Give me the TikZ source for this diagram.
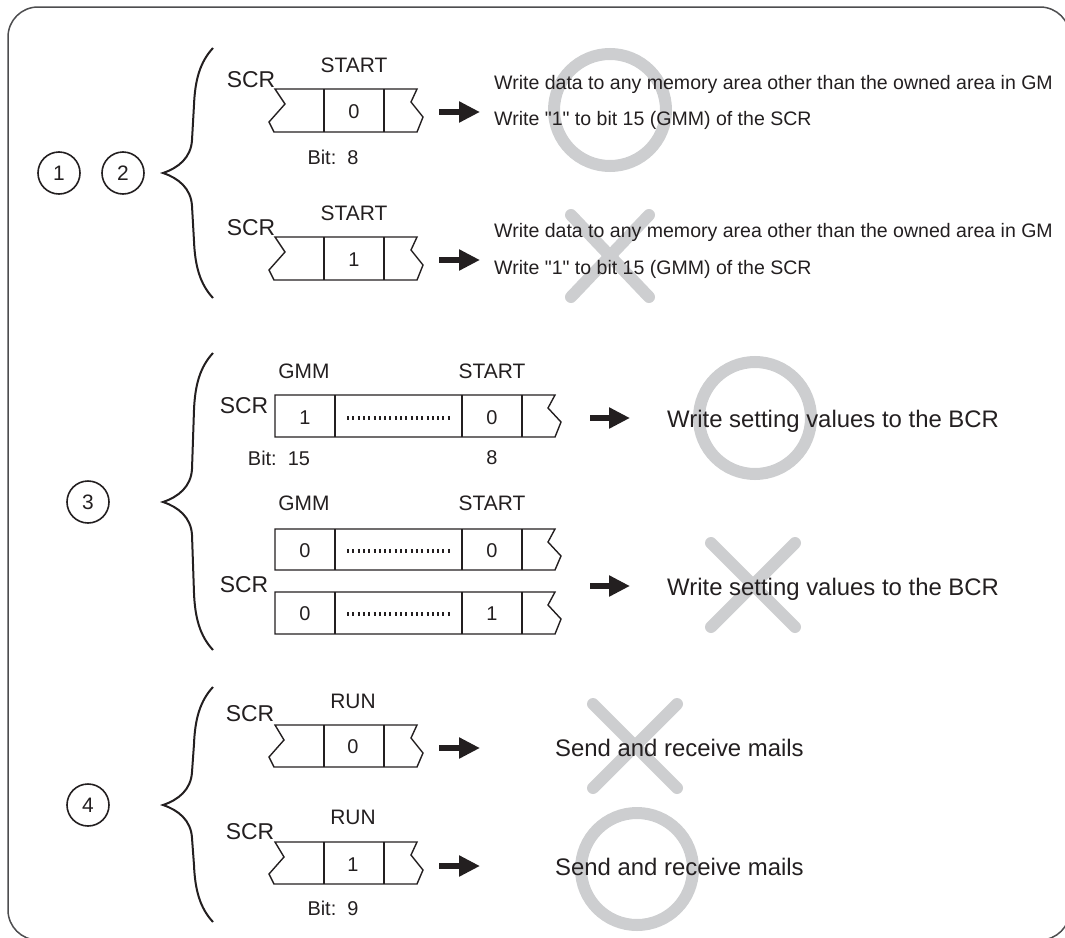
\documentclass[tikz,border=0pt]{standalone}
\usepackage{fontspec}
\setmainfont{Liberation Sans}
\newfontfamily\plainquote{Liberation Sans}
\usetikzlibrary{arrows.meta}
\definecolor{inkdark}{RGB}{35,31,32}
\definecolor{markgray}{RGB}{205,206,208}
\definecolor{framegray}{RGB}{77,77,79}

\begin{document}
\begin{tikzpicture}[x=1bp, y=-1bp, inkdark,
  reg/.style={line width=1.4bp, line join=miter},
  fld/.style={font=\fontsize{21}{24}\selectfont},
  val/.style={font=\fontsize{20}{24}\selectfont},
  scr/.style={font=\fontsize{23}{26}\selectfont},
  bitno/.style={font=\fontsize{20}{24}\selectfont},
  smalltxt/.style={font=\fontsize{19.6}{23}\selectfont, anchor=base west, inner sep=0},
  bigtxt/.style={font=\fontsize{24}{28}\selectfont, anchor=base west, inner sep=0},
  casenum/.style={draw, circle, line width=1.6bp, minimum size=42bp, inner sep=0, font=\fontsize{21}{24}\selectfont},
  curly/.style={line width=2bp},
  okmark/.style={draw=markgray, line width=12bp},
  ngmark/.style={draw=markgray, line width=12bp, line cap=round},
  goarrow/.style={line width=6bp, -{Triangle[length=21bp, width=20bp]}},
  dots/.style={line width=4.5bp, dash pattern=on 2bp off 3.3bp},
]
% frame
\begin{scope}
\clip (0,0) rectangle (1065,938);
\draw[framegray, line width=1.5bp, rounded corners=30bp] (8,7) rectangle (1070,940);
\end{scope}
\useasboundingbox (0,0) rectangle (1065,938);

% OK / NG marks (behind the texts)
\draw[okmark] (610,110) circle (56);
\draw[ngmark] (571,215) -- (649,297) (571,297) -- (649,215);
\draw[okmark] (755,418) circle (56);
\draw[ngmark] (711,543) -- (795,627) (711,627) -- (795,543);
\draw[ngmark] (593,704) -- (677,788) (593,788) -- (677,704);
\draw[okmark] (637,869) circle (56);

% Case 1 and 2
\node[casenum] (c1) at (59,173) {1};
\node[casenum] (c2) at (123,173) {2};
\draw[curly] (213,48) .. controls (200,62) and (195,80) .. (194,105) -- (192,140)
  .. controls (191,158) and (178,168) .. (163,173)
  .. controls (178,178) and (191,188) .. (192,206) -- (194,241)
  .. controls (195,266) and (200,284) .. (213,298);

% START = 0
\begin{scope}[shift={(275,89)}]
\draw[reg] (0,0) -- (142,0) -- (136,13) -- (148,28) -- (142,43) -- (-1,43) -- (-6,33) -- (10,15) -- cycle;
\draw[reg] (49,0) -- (49,43) (109,0) -- (109,43);
\node[val] (s1av) at (79,23) {0};
\node[fld] (s1af) at (79,-24) {START};
\node[scr] (s1as) at (-24,-9) {SCR};
\node[bitno] (s1ab) at (58,68) {Bit:\ \ 8};
\coordinate (s1aout) at (164,23);
\coordinate (s1ain) at (205,23);
\end{scope}
\draw[goarrow] (s1aout) -- (s1ain);
\node[smalltxt] (s1at1) at (494,89) {Write data to any memory area other than the owned area in GM};
\node[smalltxt] (s1at2) at (494,125) {Write {\plainquote"}1{\plainquote"} to bit 15 (GMM) of the SCR};

% START = 1
\begin{scope}[shift={(275,237)}]
\draw[reg] (0,0) -- (142,0) -- (136,13) -- (148,28) -- (142,43) -- (-1,43) -- (-6,33) -- (10,15) -- cycle;
\draw[reg] (49,0) -- (49,43) (109,0) -- (109,43);
\node[val] (s1bv) at (79,23) {1};
\node[fld] (s1bf) at (79,-24) {START};
\node[scr] (s1bs) at (-24,-9) {SCR};
\coordinate (s1bout) at (164,23);
\coordinate (s1bin) at (205,23);
\end{scope}
\draw[goarrow] (s1bout) -- (s1bin);
\node[smalltxt] (s1bt1) at (494,237) {Write data to any memory area other than the owned area in GM};
\node[smalltxt] (s1bt2) at (494,274) {Write {\plainquote"}1{\plainquote"} to bit 15 (GMM) of the SCR};

% Case 3
\node[casenum] (c3) at (88,502) {3};
\draw[curly] (213,353) .. controls (200,367) and (195,385) .. (194,410) -- (192,469)
  .. controls (191,487) and (178,497) .. (163,502)
  .. controls (178,507) and (191,517) .. (192,535) -- (194,593)
  .. controls (195,618) and (200,636) .. (213,650);

% GMM = 1, START = 0
\begin{scope}[shift={(275,395)}]
\draw[reg] (0,0) -- (280,0) -- (273,13) -- (286,27) -- (280,42) -- (0,42) -- cycle;
\draw[reg] (60,0) -- (60,42) (187,0) -- (187,42) (247,0) -- (247,42);
\draw[dots] (72,23) -- (176,23);
\node[val] (s3av1) at (30,23) {1};
\node[val] (s3av2) at (217,23) {0};
\node[fld] (s3ag) at (29,-24) {GMM};
\node[fld] (s3af) at (217,-24) {START};
\node[scr] (s3as) at (-31,11) {SCR};
\node[bitno] (s3ab1) at (4,63) {Bit:\ \ 15};
\node[bitno] (s3ab2) at (217,63) {8};
\coordinate (s3aout) at (315,23);
\coordinate (s3ain) at (355,23);
\end{scope}
\draw[goarrow] (s3aout) -- (s3ain);
\node[bigtxt] (s3at) at (667,427) {Write setting values to the BCR};

% GMM = 0
\node[fld] (s3bg) at (304,503) {GMM};
\node[fld] (s3bf) at (492,503) {START};
\node[scr] (s3bs) at (244,585) {SCR};
\begin{scope}[shift={(275,529)}]
\draw[reg] (0,0) -- (280,0) -- (273,13) -- (286,27) -- (280,41) -- (0,41) -- cycle;
\draw[reg] (60,0) -- (60,41) (187,0) -- (187,41) (247,0) -- (247,41);
\draw[dots] (72,22) -- (176,22);
\node[val] (s3bv1) at (30,22) {0};
\node[val] (s3bv2) at (217,22) {0};
\end{scope}
\begin{scope}[shift={(275,592)}]
\draw[reg] (0,0) -- (280,0) -- (273,13) -- (286,27) -- (280,42) -- (0,42) -- cycle;
\draw[reg] (60,0) -- (60,42) (187,0) -- (187,42) (247,0) -- (247,42);
\draw[dots] (72,22) -- (176,22);
\node[val] (s3cv1) at (30,22) {0};
\node[val] (s3cv2) at (217,22) {1};
\end{scope}
\coordinate (s3bout) at (590,586);
\coordinate (s3bin) at (630,586);
\draw[goarrow] (s3bout) -- (s3bin);
\node[bigtxt] (s3bt) at (667,595) {Write setting values to the BCR};

% Case 4
\node[casenum] (c4) at (88,805) {4};
\draw[curly] (213,687) .. controls (200,701) and (195,719) .. (194,744) -- (192,772)
  .. controls (191,790) and (178,800) .. (163,805)
  .. controls (178,810) and (191,820) .. (192,838) -- (194,865)
  .. controls (195,890) and (200,908) .. (213,922);

% RUN = 0
\begin{scope}[shift={(275,725)}]
\draw[reg] (0,0) -- (142,0) -- (136,13) -- (148,28) -- (142,42) -- (-1,42) -- (-6,32) -- (9,15) -- cycle;
\draw[reg] (49,0) -- (49,42) (109,0) -- (109,42);
\node[val] (s4av) at (78,22) {0};
\node[fld] (s4af) at (78,-24) {RUN};
\node[scr] (s4as) at (-25,-11) {SCR};
\coordinate (s4aout) at (164,23);
\coordinate (s4ain) at (205,23);
\end{scope}
\draw[goarrow] (s4aout) -- (s4ain);
\node[bigtxt] (s4at) at (555,756) {Send and receive mails};

% RUN = 1
\begin{scope}[shift={(275,842)}]
\draw[reg] (0,0) -- (142,0) -- (136,13) -- (148,28) -- (142,42) -- (-1,42) -- (-6,32) -- (9,15) -- cycle;
\draw[reg] (49,0) -- (49,42) (109,0) -- (109,42);
\node[val] (s4bv) at (78,23) {1};
\node[fld] (s4bf) at (78,-25) {RUN};
\node[scr] (s4bs) at (-25,-10) {SCR};
\node[bitno] (s4bb) at (58,66) {Bit:\ \ 9};
\coordinate (s4bout) at (164,24);
\coordinate (s4bin) at (205,24);
\end{scope}
\draw[goarrow] (s4bout) -- (s4bin);
\node[bigtxt] (s4bt) at (555,875) {Send and receive mails};
\end{tikzpicture}
\end{document}
